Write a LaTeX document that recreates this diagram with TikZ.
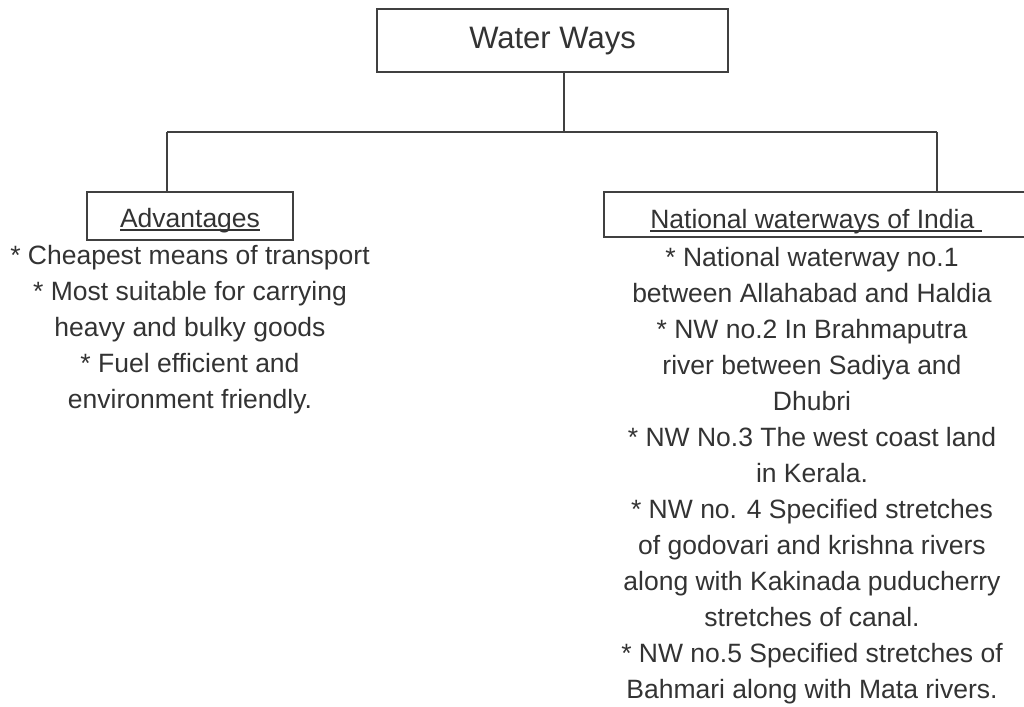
\documentclass[tikz,border=0pt]{standalone}
\usepackage{fontspec}
\setmainfont{Liberation Sans}
\definecolor{txt}{HTML}{333333}
\definecolor{ln}{HTML}{404040}
\newcommand\myul[1]{\setbox0\hbox{#1}\rlap{\vrule width\wd0 height -2.2pt depth 3.6pt}\box0}
\begin{document}
\begin{tikzpicture}[x=1pt,y=-1pt,
  boxed/.style={draw=ln, line width=1.2pt, rectangle, inner sep=0pt, text=txt},
  conn/.style={draw=ln, line width=1.2pt},
  body/.style={text=txt, inner sep=0pt, align=center, font=\fontsize{26.5}{36}\selectfont, anchor=north}]
\useasboundingbox (0,0) rectangle (1024,706);
\node[boxed, minimum width=351pt, minimum height=63pt, text height=24pt, text depth=7pt, font=\fontsize{31}{36}\selectfont] (ww) at (552.5,40.5) {Water Ways};
\node[boxed, minimum width=206pt, minimum height=48pt, text height=24pt, text depth=2pt, font=\fontsize{26.5}{36}\selectfont] (adv) at (190,216) {\myul{Advantages}};
\node[boxed, minimum width=424pt, minimum height=45pt, text height=28pt, text depth=1pt, font=\fontsize{26.5}{36}\selectfont] (nat) at (816,214.5) {\myul{National waterways of India~}};
\coordinate (j) at (564,132);
\coordinate (jl) at (167,132);
\coordinate (jr) at (937,132);
\draw[conn] (ww.south -| j) -- (j);
\draw[conn] (jl) -- (jr);
\draw[conn] (jl) -- (jl |- adv.north);
\draw[conn] (jr) -- (jr |- nat.north);
\node[body] (advtxt) at (190,245) {* Cheapest means of transport\\* Most suitable for carrying\\heavy and bulky goods\\* Fuel efficient and\\environment friendly.};
\node[body] (nattxt) at (812,247) {* National waterway no.1\\between Allahabad and Haldia\\* NW no.2 In Brahmaputra\\river between Sadiya and\\Dhubri\\* NW No.3 The west coast land\\in Kerala.\\* NW no. 4 Specified stretches\\of godovari and krishna rivers\\along with Kakinada puducherry\\stretches of canal.\\* NW no.5 Specified stretches of\\Bahmari along with Mata rivers.};
\end{tikzpicture}
\end{document}
